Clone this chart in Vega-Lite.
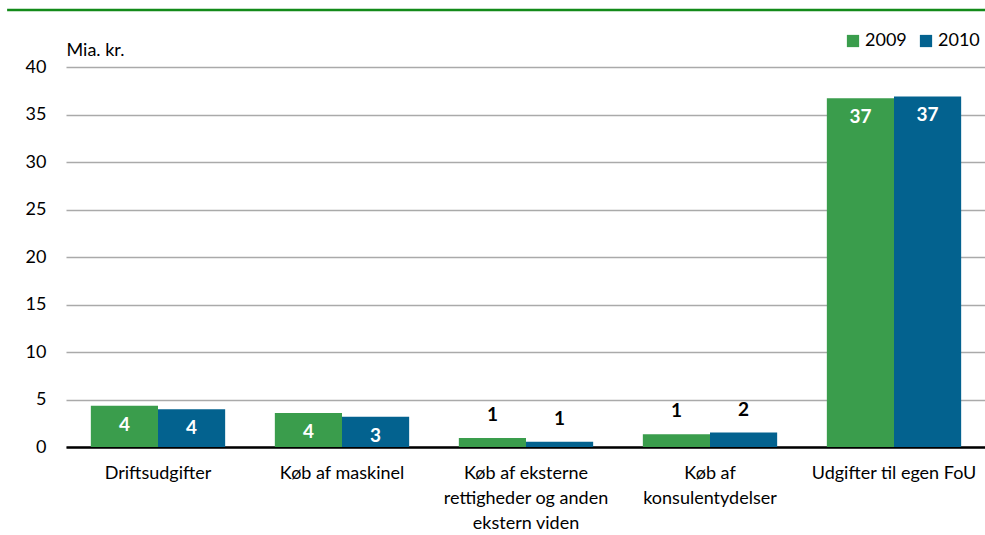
{
  "$schema": "https://vega.github.io/schema/vega-lite/v6.json",
  "autosize": {"type": "none"},
  "width": 920,
  "height": 380,
  "padding": {"left": 66, "top": 67, "right": 0, "bottom": 88},
  "background": "white",
  "config": {
    "font": "Lato",
    "view": {"stroke": null},
    "axis": {"labelFont": "Lato", "labelFontSize": 18, "labelColor": "#000", "titleFont": "Lato"}
  },
  "data": {
    "values": [
      {"cat": "Driftsudgifter", "year": "2009", "value": 4.35},
      {"cat": "Driftsudgifter", "year": "2010", "value": 3.97},
      {"cat": "Køb af maskinel", "year": "2009", "value": 3.58},
      {"cat": "Køb af maskinel", "year": "2010", "value": 3.19},
      {"cat": "Køb af eksterne|rettigheder og anden|ekstern viden", "year": "2009", "value": 0.95},
      {"cat": "Køb af eksterne|rettigheder og anden|ekstern viden", "year": "2010", "value": 0.56},
      {"cat": "Køb af|konsulentydelser", "year": "2009", "value": 1.35},
      {"cat": "Køb af|konsulentydelser", "year": "2010", "value": 1.52},
      {"cat": "Udgifter til egen FoU", "year": "2009", "value": 36.7},
      {"cat": "Udgifter til egen FoU", "year": "2010", "value": 36.9}
    ]
  },
  "layer": [
    {
      "encoding": {
        "x": {
          "field": "cat", "type": "nominal", "sort": null,
          "scale": {"paddingInner": 0.27, "paddingOuter": 0.135},
          "axis": {
            "title": null, "labelAngle": 0, "ticks": false, "domain": true,
            "domainColor": "#000", "domainWidth": 2.5, "labelPadding": 17,
            "labelExpr": "split(datum.label, '|')", "labelLineHeight": 25,
            "labelBaseline": "top"
          }
        },
        "y": {
          "field": "value", "type": "quantitative",
          "scale": {"domain": [0, 40], "nice": false},
          "axis": {
            "values": [0, 5, 10, 15, 20, 25, 30, 35, 40],
            "title": "Mia. kr.", "titleAngle": 0, "titleAlign": "left",
            "titleBaseline": "alphabetic", "titleX": 0, "titleY": -12,
            "titleFontSize": 18, "titleFontWeight": "normal", "titleColor": "#000",
            "domain": false, "ticks": false, "labelPadding": 20,
            "gridColor": "#aaaaaa", "gridWidth": 1.5
          }
        },
        "xOffset": {"field": "year", "type": "nominal"}
      },
      "layer": [
        {
          "mark": {"type": "bar"},
          "encoding": {
            "color": {
              "field": "year", "type": "nominal",
              "scale": {"domain": ["2009", "2010"], "range": ["#3a9d4c", "#03628f"]},
              "legend": {
                "title": null, "orient": "none", "direction": "horizontal",
                "legendX": 778, "legendY": -35,
                "symbolType": "square", "symbolSize": 150, "symbolStrokeWidth": 0,
                "labelFontSize": 18, "labelFont": "Lato", "labelColor": "#000",
                "columnPadding": 10, "labelOffset": 3
              }
            }
          }
        },
        {
          "transform": [{"filter": "datum.value >= 2"}],
          "mark": {"type": "text", "color": "white", "fontWeight": "bold", "fontSize": 19, "baseline": "middle", "dy": 19},
          "encoding": {
            "text": {"field": "value", "type": "quantitative", "format": ".0f"}
          }
        },
        {
          "transform": [{"filter": "datum.value < 2"}],
          "mark": {"type": "text", "color": "black", "fontWeight": "bold", "fontSize": 19, "baseline": "middle", "dy": -23},
          "encoding": {
            "text": {"field": "value", "type": "quantitative", "format": ".0f"}
          }
        }
      ]
    },
    {
      "data": {"values": [{"start": -6.4, "end": 100}]},
      "mark": {"type": "rule", "color": "#138a1a", "strokeWidth": 2.5, "clip": false},
      "encoding": {
        "x": {"field": "start", "type": "quantitative", "scale": {"domain": [0, 100]}, "axis": null},
        "x2": {"field": "end"},
        "y": {"datum": 46}
      }
    }
  ],
  "resolve": {"scale": {"x": "independent"}}
}
